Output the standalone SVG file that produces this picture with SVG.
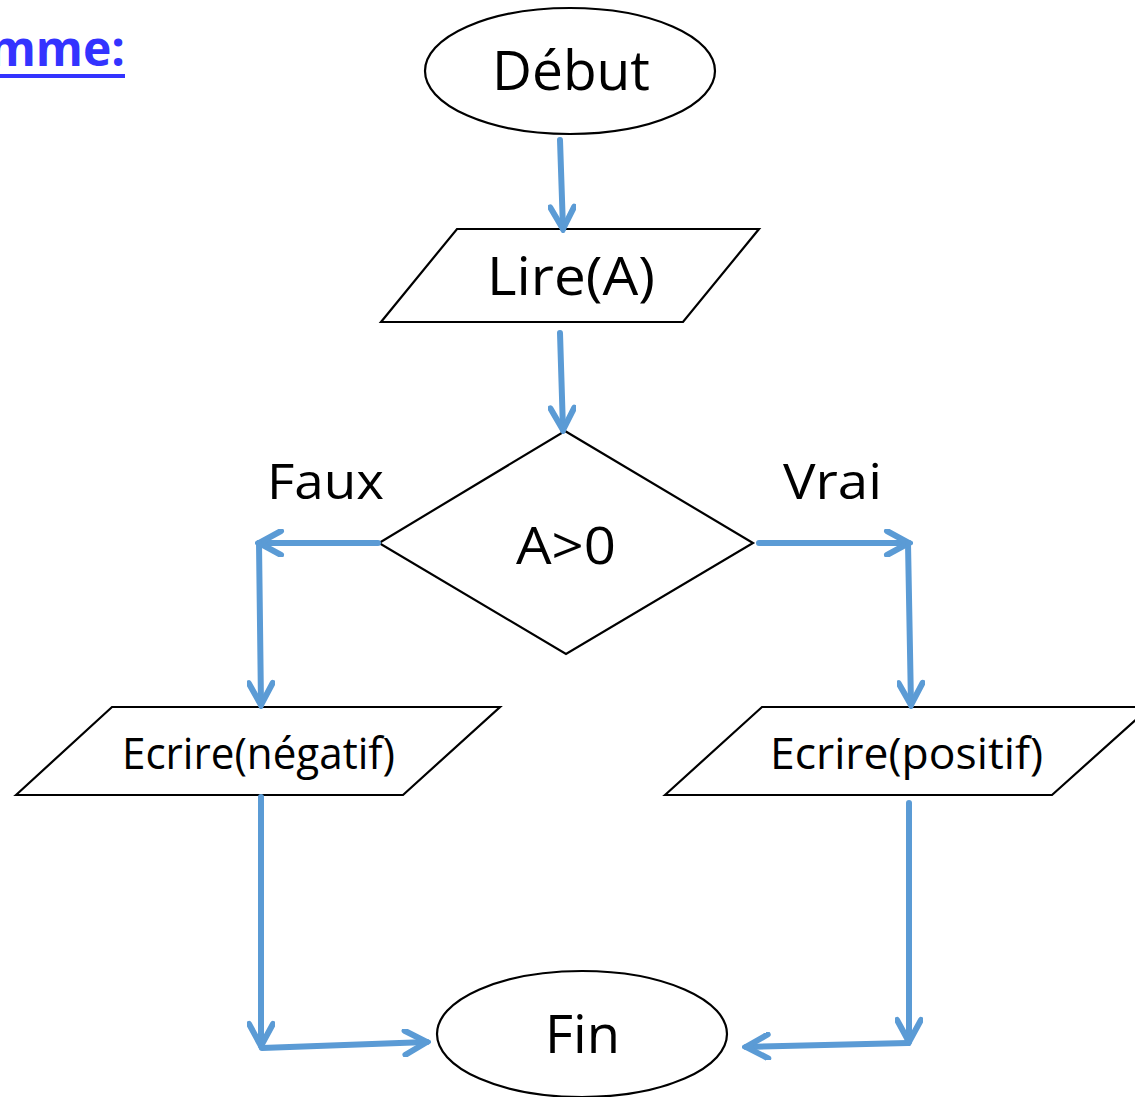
<svg xmlns="http://www.w3.org/2000/svg" width="1135" height="1097" viewBox="0 0 1135 1097">
<style>
.shape{fill:#fff;stroke:#000;stroke-width:2.2}
.t{font-family:"Open Sans","Liberation Sans",sans-serif;fill:#000}
.conn{fill:none;stroke:#5B9BD5;stroke-width:6;stroke-linecap:round;stroke-linejoin:round}
</style>
<defs>
<marker id="ah" viewBox="-26 -14 30 28" refX="0" refY="0" markerWidth="30" markerHeight="28" markerUnits="userSpaceOnUse" orient="auto">
<path d="M-22,-12 L0,0 L-22,12" fill="none" stroke="#5B9BD5" stroke-width="6" stroke-linecap="round" stroke-linejoin="miter"/>
</marker>
</defs>
<rect width="1135" height="1097" fill="#fff"/>
<g id="title">
<text x="125" y="66" text-anchor="end" font-family="'Open Sans','Liberation Sans',sans-serif" font-weight="bold" font-size="48" fill="#3333FF">mme:</text>
<rect x="-2" y="74" width="127" height="4" fill="#3333FF"/>
</g>
<g id="debut">
<ellipse class="shape" cx="570" cy="71" rx="145" ry="63"/>
<text class="t" x="492" y="90" font-size="54" textLength="158" lengthAdjust="spacingAndGlyphs">Début</text>
</g>
<g id="lire">
<polygon class="shape" points="381,322 457,229 759,229 683,322"/>
<text class="t" x="487" y="295" font-size="53" textLength="168" lengthAdjust="spacingAndGlyphs">Lire(A)</text>
</g>
<g id="test">
<polygon class="shape" points="565,431 753,543 566,654 379,543"/>
<text class="t" x="516" y="564" font-size="52" textLength="100" lengthAdjust="spacingAndGlyphs">A&gt;0</text>
</g>
<g id="neg">
<polygon class="shape" points="16,795 112,707 500,707 403,795"/>
<text class="t" x="122" y="769" font-size="43" textLength="273" lengthAdjust="spacingAndGlyphs">Ecrire(négatif)</text>
</g>
<g id="pos">
<polygon class="shape" points="665,795 762,707 1150,707 1052,795"/>
<text class="t" x="770" y="769" font-size="43" textLength="273" lengthAdjust="spacingAndGlyphs">Ecrire(positif)</text>
</g>
<g id="fin">
<ellipse class="shape" cx="582" cy="1034" rx="145" ry="63"/>
<text class="t" x="545" y="1053" font-size="53" textLength="75" lengthAdjust="spacingAndGlyphs">Fin</text>
</g>
<g id="labels">
<text class="t" x="267" y="499" font-size="50" textLength="117" lengthAdjust="spacingAndGlyphs">Faux</text>
<text class="t" x="783" y="499" font-size="50" textLength="99" lengthAdjust="spacingAndGlyphs">Vrai</text>
</g>
<g id="connectors" class="conn">
<line x1="560" y1="140" x2="563" y2="229" marker-end="url(#ah)"/>
<line x1="560" y1="333" x2="563" y2="430" marker-end="url(#ah)"/>
<line x1="378" y1="543" x2="259" y2="543" marker-end="url(#ah)"/>
<line x1="259" y1="543" x2="261" y2="705" marker-end="url(#ah)"/>
<line x1="759" y1="543" x2="909" y2="543" marker-end="url(#ah)"/>
<line x1="908" y1="543" x2="911" y2="705" marker-end="url(#ah)"/>
<line x1="261" y1="797" x2="261" y2="1046" marker-end="url(#ah)"/>
<line x1="262" y1="1048" x2="427" y2="1042" marker-end="url(#ah)"/>
<line x1="909" y1="803" x2="909" y2="1042" marker-end="url(#ah)"/>
<line x1="908" y1="1043" x2="746" y2="1047" marker-end="url(#ah)"/>
</g>
</svg>
